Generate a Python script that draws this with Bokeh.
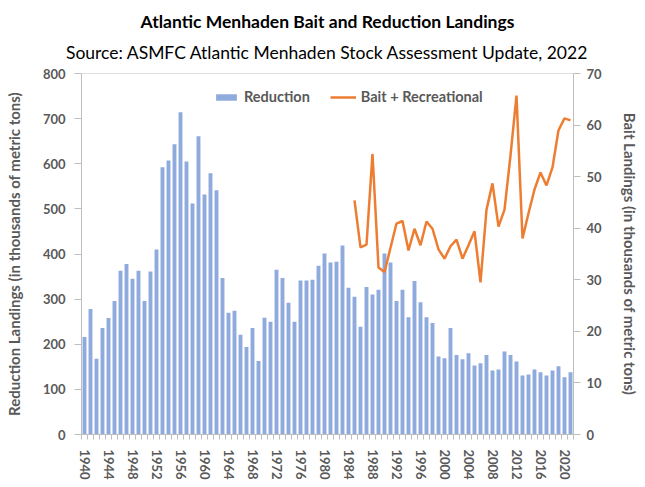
from bokeh.plotting import figure
from bokeh.models import (Range1d, LinearAxis, FixedTicker, Span, Title, Legend,
                          LegendItem, ColumnDataSource)
from bokeh.embed import file_html
from bokeh.resources import INLINE

# ---------------- data ----------------
years = list(range(1940, 2022))
reduction = [216, 278, 168, 236, 258, 296, 363, 378, 345, 363,
             296, 361, 410, 592, 607, 643, 714, 605, 512, 661,
             532, 579, 541, 347, 270, 274, 221, 194, 236, 163,
             259, 250, 365, 347, 292, 250, 341, 341, 343, 374,
             401, 381, 383, 419, 325, 305, 239, 327, 310, 321,
             401, 381, 296, 321, 260, 340, 293, 260, 247, 173,
             169, 236, 176, 167, 180, 153, 158, 176, 142, 144,
             184, 176, 162, 131, 133, 144, 138, 131, 142, 151,
             127, 138]
bait_years = list(range(1985, 2022))
bait = [45.4, 36.3, 36.8, 54.4, 32.4, 31.5, 36.2, 40.9, 41.4, 35.7,
        39.9, 36.7, 41.3, 39.9, 35.9, 34.1, 36.5, 37.8, 34.1, 36.7,
        39.4, 29.5, 43.6, 48.7, 40.3, 43.6, 54.1, 65.7, 38.0, 42.9,
        47.5, 50.8, 48.3, 51.8, 59.0, 61.3, 60.9]
year_ticks = list(range(1940, 2021, 4))
left_ticks = list(range(0, 801, 100))
right_ticks = list(range(0, 71, 10))

title_text = "Atlantic Menhaden Bait and Reduction Landings"
subtitle_text = "Source: ASMFC Atlantic Menhaden Stock Assessment Update, 2022"

FONT = "Lato"
GREY = "#595959"
AXIS = "#bfbfbf"

p = figure(width=645, height=487, output_backend="svg", toolbar_location=None,
           x_range=Range1d(1939.5, 2021.5), y_range=Range1d(0, 800),
           min_border_left=81, min_border_right=72, min_border_top=73,
           min_border_bottom=53)
p.extra_y_ranges = {"bait": Range1d(0, 70)}
p.xgrid.visible = False
p.ygrid.visible = False
p.outline_line_color = None
p.background_fill_color = "white"
p.border_fill_color = "white"

red_src = ColumnDataSource(dict(year=years, value=reduction))
bait_src = ColumnDataSource(dict(year=bait_years, value=bait))

bars = p.vbar(x="year", top="value", width=0.65, source=red_src,
              fill_color="#8FAADC", line_color=None)
line = p.line(x="year", y="value", source=bait_src, y_range_name="bait",
              line_color="#ED7D31", line_width=2.5)

# x axis
xa = p.xaxis[0]
xa.ticker = FixedTicker(ticks=year_ticks,
                        minor_ticks=[y - 0.5 for y in years] + [2021.5])
xa.major_label_orientation = "vertical"
xa.major_tick_out = 0
xa.major_tick_in = 0
xa.minor_tick_out = 5
xa.minor_tick_in = 0
xa.minor_tick_line_color = AXIS
xa.axis_line_color = AXIS
xa.major_label_standoff = 10
xa.major_label_text_font = FONT
xa.major_label_text_font_style = "bold"
xa.major_label_text_font_size = "13px"
xa.major_label_text_color = GREY

# left axis
ya = p.yaxis[0]
ya.ticker = FixedTicker(ticks=left_ticks)
ya.axis_label = "Reduction Landings (in thousands of metric tons)"
ya.minor_tick_line_color = None
ya.major_tick_out = 7
ya.major_tick_in = 0
ya.major_tick_line_color = AXIS
ya.axis_line_color = AXIS
ya.major_label_standoff = 9
ya.axis_label_standoff = 17

# right axis
ra = LinearAxis(y_range_name="bait", ticker=FixedTicker(ticks=right_ticks),
                axis_label="Bait Landings (in thousands of metric tons)")
ra.minor_tick_line_color = None
ra.major_tick_out = 7
ra.major_tick_in = 0
ra.major_tick_line_color = AXIS
ra.axis_line_color = AXIS
ra.major_label_standoff = 6
ra.axis_label_standoff = 16
p.add_layout(ra, "right")

for ax in (ya, ra):
    ax.major_label_text_font = FONT
    ax.major_label_text_font_style = "bold"
    ax.major_label_text_font_size = "13px"
    ax.major_label_text_color = GREY
    ax.axis_label_text_font = FONT
    ax.axis_label_text_font_style = "bold"
    ax.axis_label_text_font_size = "15px"
    ax.axis_label_text_color = GREY

p.add_layout(Span(location=800, dimension="width", line_color=AXIS, line_width=1))

legend = Legend(items=[LegendItem(label="Reduction", renderers=[bars]),
                       LegendItem(label="Bait + Recreational", renderers=[line])],
                orientation="horizontal", location=(132, 329),
                glyph_width=26, glyph_height=8, label_height=14,
                label_standoff=5, spacing=20, padding=0, margin=0,
                background_fill_alpha=0, border_line_color=None,
                label_text_font=FONT, label_text_font_style="bold",
                label_text_font_size="14.5px", label_text_color=GREY)
p.add_layout(legend)

p.add_layout(Title(text=subtitle_text, align="center", text_font=FONT,
                   text_font_style="normal", text_font_size="17.5px",
                   text_color="black", standoff=21), "above")
p.add_layout(Title(text=title_text, align="center", text_font=FONT,
                   text_font_style="bold", text_font_size="17.5px",
                   text_color="black", standoff=-4), "above")

open("out.html", "w").write(file_html(p, INLINE))
